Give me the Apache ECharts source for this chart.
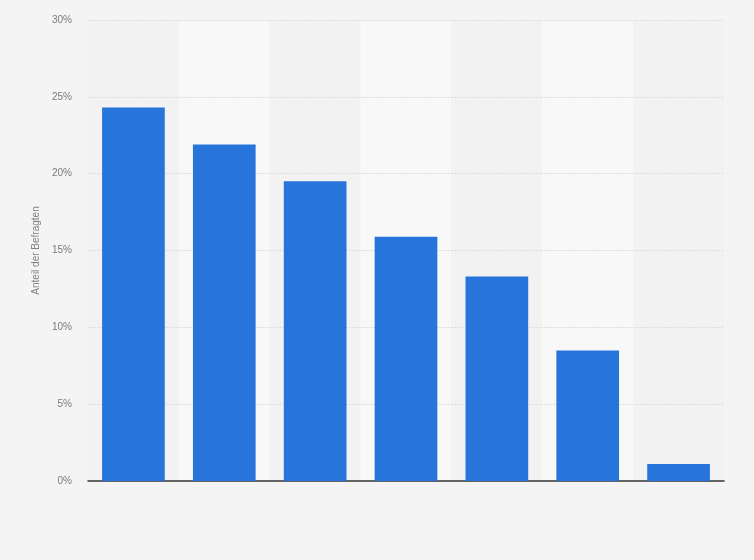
<!DOCTYPE html>
<html>
<head>
<meta charset="utf-8">
<script src="https://cdn.jsdelivr.net/npm/echarts@6/dist/echarts.min.js"></script>
<style>
html,body{margin:0;padding:0;background:#f4f4f4;}
#chart{width:754px;height:560px;}
</style>
</head>
<body>
<div id="chart"></div>
<script>
// Kategorien (im Original ohne Beschriftung)
var categories = ['A', 'B', 'C', 'D', 'E', 'F', 'G'];
var shares = [24.3, 21.9, 19.5, 15.9, 13.3, 8.5, 1.1];
var yTicks = [0, 5, 10, 15, 20, 25, 30];

var chart = echarts.init(document.getElementById('chart'));
var option = {
    backgroundColor: '#f4f4f4',
    animation: false,
    grid: {
        left: 88,
        right: 30,
        top: 20,
        bottom: 79
    },
    xAxis: {
        type: 'category',
        data: categories,
        z: 0,
        axisLine: {lineStyle: {color: '#333', width: 1.5}},
        axisTick: {show: false},
        axisLabel: {show: false},
        splitArea: {
            show: true,
            areaStyle: {color: ['#f2f2f2', '#f8f8f8']}
        }
    },
    yAxis: {
        type: 'value',
        z: 1,
        min: yTicks[0],
        max: yTicks[yTicks.length - 1],
        interval: 5,
        name: 'Anteil der Befragten',
        nameLocation: 'middle',
        nameGap: 41,
        nameTextStyle: {color: '#808080', fontSize: 10, fontFamily: 'Liberation Sans'},
        axisLine: {show: false},
        axisTick: {show: false},
        axisLabel: {
            formatter: '{value}%',
            color: '#7a7a7a',
            fontSize: 10,
            fontFamily: 'Liberation Sans',
            margin: 16
        },
        splitLine: {
            show: true,
            showMinLine: false,
            lineStyle: {color: '#dedede', type: [2, 1]}
        }
    },
    series: [
        {
            type: 'bar',
            z: 2,
            data: shares,
            barCategoryGap: '31%',
            itemStyle: {color: '#2775db'}
        }
    ]
};
chart.setOption(option);
</script>
</body>
</html>
